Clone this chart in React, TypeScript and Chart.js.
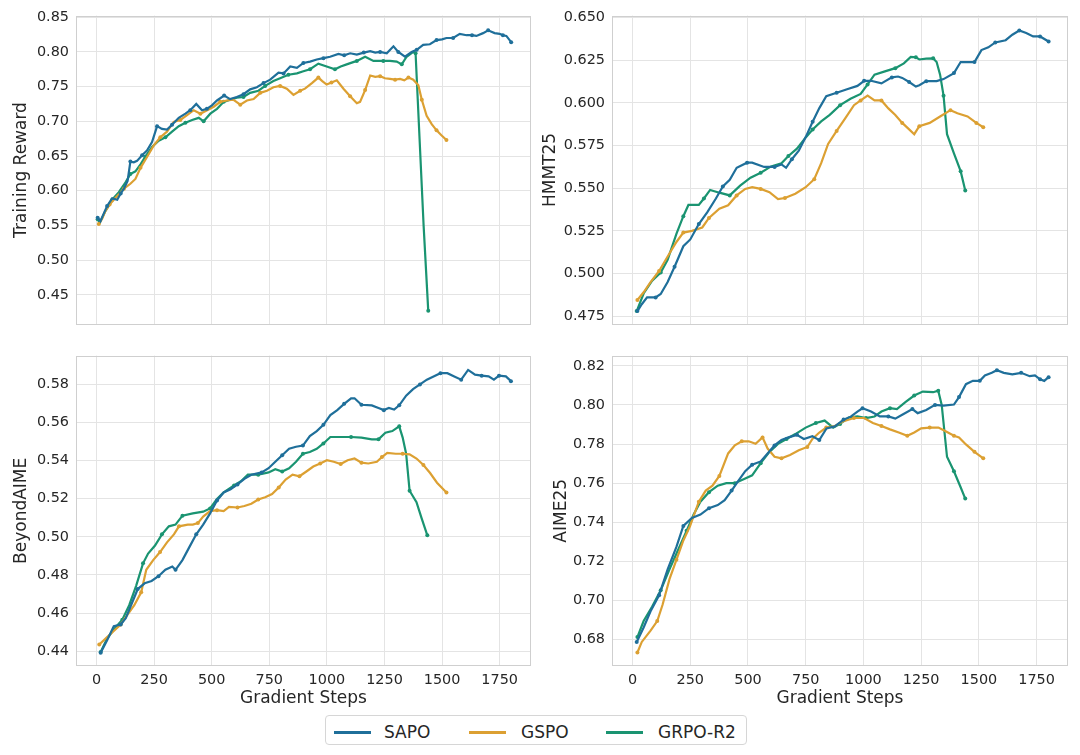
import React, { useEffect, useRef } from "react";
import { Chart, registerables } from "chart.js";

Chart.register(...registerables);

type Pt = [number, number];

const SERIES_NAMES = ["SAPO", "GSPO", "GRPO-R2"];
const X_TICKS = [0, 250, 500, 750, 1000, 1250, 1500, 1750];
const X_TITLE = "Gradient Steps";

const TRAIN_TICKS = [0.45, 0.5, 0.55, 0.6, 0.65, 0.7, 0.75, 0.8, 0.85];
const HMMT_TICKS = [0.475, 0.5, 0.525, 0.55, 0.575, 0.6, 0.625, 0.65];
const BEYOND_TICKS = [0.44, 0.46, 0.48, 0.5, 0.52, 0.54, 0.56, 0.58];
const AIME_TICKS = [0.68, 0.7, 0.72, 0.74, 0.76, 0.78, 0.8, 0.82];

// ---- Training Reward ----
const TRAIN_SAPO: Pt[] = [
  [5, 0.561], [17, 0.556], [30, 0.566], [46, 0.578], [68, 0.589], [90, 0.587], [105, 0.596], [119, 0.603],
  [135, 0.614], [147, 0.642], [162, 0.641], [176, 0.643], [198, 0.651], [219, 0.658], [241, 0.67], [263, 0.693],
  [284, 0.689], [306, 0.688], [328, 0.695], [357, 0.705], [386, 0.711], [407, 0.716], [433, 0.725], [458, 0.716],
  [479, 0.718], [501, 0.723], [523, 0.73], [554, 0.737], [580, 0.732], [609, 0.735], [638, 0.739], [667, 0.746],
  [696, 0.749], [725, 0.755], [754, 0.76], [790, 0.77], [812, 0.769], [841, 0.779], [870, 0.777], [898, 0.784],
  [927, 0.786], [956, 0.789], [985, 0.791], [1014, 0.793], [1050, 0.797], [1075, 0.795], [1101, 0.798], [1130, 0.796],
  [1160, 0.799], [1188, 0.801], [1210, 0.799], [1231, 0.8], [1260, 0.798], [1289, 0.808], [1310, 0.8], [1339, 0.793],
  [1368, 0.8], [1390, 0.803], [1418, 0.81], [1447, 0.811], [1476, 0.817], [1500, 0.818], [1519, 0.82], [1548, 0.82],
  [1577, 0.826], [1606, 0.824], [1630, 0.824], [1649, 0.823], [1678, 0.827], [1700, 0.831], [1728, 0.827], [1750, 0.826],
  [1764, 0.824], [1779, 0.823], [1800, 0.814],
];
const TRAIN_GSPO: Pt[] = [
  [10, 0.552], [25, 0.56], [39, 0.571], [57, 0.58], [75, 0.587], [97, 0.595], [119, 0.603], [147, 0.61],
  [169, 0.617], [191, 0.633], [220, 0.649], [248, 0.665], [277, 0.677], [306, 0.685], [335, 0.699], [364, 0.702],
  [393, 0.709], [422, 0.716], [451, 0.711], [480, 0.716], [509, 0.721], [537, 0.728], [566, 0.73], [595, 0.731],
  [624, 0.724], [653, 0.73], [682, 0.732], [711, 0.741], [740, 0.744], [768, 0.749], [797, 0.751], [826, 0.747],
  [855, 0.738], [884, 0.744], [905, 0.747], [935, 0.755], [963, 0.763], [980, 0.758], [999, 0.753], [1020, 0.756],
  [1043, 0.759], [1072, 0.747], [1101, 0.736], [1130, 0.726], [1144, 0.728], [1166, 0.745], [1188, 0.766], [1210, 0.764],
  [1231, 0.765], [1252, 0.762], [1274, 0.761], [1296, 0.76], [1318, 0.761], [1336, 0.759], [1354, 0.763], [1375, 0.76],
  [1397, 0.752], [1412, 0.731], [1433, 0.708], [1455, 0.696], [1476, 0.687], [1497, 0.68], [1519, 0.673],
];
const TRAIN_GRPO: Pt[] = [
  [5, 0.559], [14, 0.554], [39, 0.571], [68, 0.587], [97, 0.598], [126, 0.612], [147, 0.624], [169, 0.628],
  [191, 0.638], [212, 0.649], [241, 0.663], [270, 0.672], [299, 0.677], [328, 0.685], [357, 0.693], [386, 0.698],
  [415, 0.702], [444, 0.705], [465, 0.7], [494, 0.711], [523, 0.718], [552, 0.728], [580, 0.731], [609, 0.734],
  [638, 0.735], [667, 0.741], [703, 0.744], [732, 0.751], [768, 0.758], [797, 0.762], [833, 0.767], [870, 0.769],
  [898, 0.772], [927, 0.775], [963, 0.783], [999, 0.779], [1035, 0.775], [1060, 0.779], [1086, 0.782], [1130, 0.787],
  [1166, 0.793], [1202, 0.787], [1245, 0.787], [1274, 0.787], [1303, 0.786], [1325, 0.782], [1346, 0.793], [1375, 0.8],
  [1385, 0.798], [1420, 0.549], [1440, 0.427],
];

// ---- HMMT25 ----
const HMMT_SAPO: Pt[] = [
  [21, 0.478], [40, 0.482], [63, 0.486], [100, 0.486], [122, 0.488], [152, 0.495], [182, 0.504], [220, 0.516],
  [250, 0.52], [287, 0.529], [324, 0.536], [361, 0.544], [391, 0.551], [421, 0.555], [451, 0.562], [496, 0.565],
  [518, 0.565], [570, 0.5625], [615, 0.5625], [645, 0.564], [665, 0.562], [690, 0.567], [720, 0.572], [750, 0.58],
  [780, 0.589], [809, 0.597], [839, 0.604], [884, 0.606], [929, 0.608], [974, 0.61], [1003, 0.613], [1033, 0.613],
  [1078, 0.6115], [1123, 0.615], [1150, 0.6155], [1168, 0.6147], [1198, 0.6123], [1227, 0.6096], [1242, 0.6104], [1272, 0.6128],
  [1317, 0.6128], [1347, 0.614], [1392, 0.6175], [1421, 0.624], [1451, 0.624], [1481, 0.624], [1511, 0.631], [1541, 0.6326],
  [1571, 0.6355], [1616, 0.6368], [1645, 0.64], [1675, 0.6425], [1705, 0.641], [1735, 0.639], [1765, 0.639], [1802, 0.636],
];
const HMMT_GSPO: Pt[] = [
  [21, 0.4845], [48, 0.489], [78, 0.495], [115, 0.5015], [152, 0.51], [190, 0.5185], [220, 0.524], [257, 0.525],
  [302, 0.527], [331, 0.5326], [376, 0.538], [414, 0.54], [451, 0.5458], [488, 0.5496], [518, 0.5506], [555, 0.5496],
  [593, 0.5477], [630, 0.5436], [660, 0.5443], [705, 0.5468], [750, 0.5506], [787, 0.5553], [817, 0.5647], [847, 0.576],
  [884, 0.5836], [921, 0.591], [959, 0.5987], [988, 0.6015], [1018, 0.6043], [1048, 0.6015], [1078, 0.6015], [1108, 0.5968],
  [1138, 0.593], [1168, 0.5883], [1198, 0.5845], [1220, 0.5817], [1242, 0.5864], [1287, 0.5883], [1332, 0.5921], [1377, 0.5958],
  [1407, 0.594], [1451, 0.5921], [1489, 0.5883], [1519, 0.5858],
];
const HMMT_GRPO: Pt[] = [
  [18, 0.478], [48, 0.4883], [85, 0.4958], [122, 0.5006], [152, 0.5081], [190, 0.5232], [220, 0.5336], [242, 0.5402],
  [287, 0.5402], [309, 0.544], [336, 0.549], [376, 0.5474], [421, 0.5458], [466, 0.5515], [511, 0.5562], [555, 0.5591],
  [600, 0.5628], [645, 0.5647], [675, 0.5689], [712, 0.5732], [750, 0.5798], [780, 0.5845], [817, 0.5892], [854, 0.593],
  [899, 0.5987], [944, 0.6025], [988, 0.6053], [1018, 0.6109], [1048, 0.6166], [1093, 0.6185], [1138, 0.6204], [1175, 0.6232],
  [1205, 0.627], [1227, 0.6268], [1242, 0.6255], [1272, 0.626], [1302, 0.6262], [1317, 0.624], [1332, 0.6166], [1347, 0.6043],
  [1362, 0.5817], [1392, 0.5704], [1421, 0.56], [1441, 0.5487],
];

// ---- BeyondAIME ----
const BEYOND_SAPO: Pt[] = [
  [18, 0.4392], [45, 0.4455], [75, 0.4531], [105, 0.454], [127, 0.4573], [150, 0.4641], [179, 0.4726], [209, 0.4756],
  [239, 0.4768], [269, 0.4793], [299, 0.4827], [329, 0.4844], [343, 0.4827], [373, 0.4878], [403, 0.4946], [433, 0.5013],
  [463, 0.5064], [493, 0.5123], [523, 0.5191], [552, 0.5233], [582, 0.525], [612, 0.5275], [642, 0.5304], [672, 0.5326],
  [717, 0.5338], [747, 0.536], [776, 0.5394], [806, 0.5428], [836, 0.5462], [866, 0.5473], [896, 0.5479], [926, 0.5529],
  [956, 0.5555], [985, 0.5588], [1015, 0.5639], [1045, 0.5665], [1075, 0.5698], [1105, 0.5727], [1120, 0.5727], [1150, 0.5693],
  [1195, 0.569], [1224, 0.5676], [1247, 0.5665], [1269, 0.5676], [1292, 0.5668], [1314, 0.569], [1344, 0.5741], [1374, 0.5775],
  [1404, 0.58], [1434, 0.5825], [1463, 0.5842], [1493, 0.5859], [1523, 0.5859], [1553, 0.5842], [1583, 0.5825], [1613, 0.5876],
  [1643, 0.5851], [1672, 0.5846], [1702, 0.5842], [1725, 0.5825], [1747, 0.5846], [1777, 0.5842], [1799, 0.5817],
];
const BEYOND_GSPO: Pt[] = [
  [12, 0.4435], [45, 0.4472], [75, 0.4506], [105, 0.454], [134, 0.459], [164, 0.4641], [194, 0.4709], [216, 0.4827],
  [246, 0.4878], [276, 0.492], [306, 0.4971], [336, 0.5013], [358, 0.5055], [396, 0.5064], [418, 0.5064], [440, 0.5072],
  [463, 0.5106], [493, 0.5135], [523, 0.514], [552, 0.5135], [575, 0.5157], [612, 0.5154], [642, 0.5162], [672, 0.5174],
  [702, 0.5196], [732, 0.5208], [762, 0.5225], [791, 0.5259], [821, 0.5301], [851, 0.5326], [881, 0.5318], [911, 0.5343],
  [941, 0.5369], [971, 0.5385], [1000, 0.5402], [1030, 0.5394], [1060, 0.5382], [1090, 0.5402], [1120, 0.5411], [1150, 0.5389],
  [1180, 0.5385], [1217, 0.5394], [1239, 0.5419], [1262, 0.544], [1299, 0.5436], [1329, 0.5436], [1359, 0.5433], [1389, 0.5411],
  [1419, 0.5377], [1448, 0.5335], [1478, 0.5284], [1519, 0.5233],
];
const BEYOND_GRPO: Pt[] = [
  [18, 0.4396], [45, 0.4463], [75, 0.4514], [112, 0.4565], [142, 0.4641], [172, 0.4743], [202, 0.4861], [224, 0.4912],
  [254, 0.4954], [284, 0.5013], [314, 0.5055], [343, 0.5064], [373, 0.5111], [418, 0.5123], [463, 0.5132], [493, 0.5149],
  [523, 0.5199], [552, 0.5233], [597, 0.527], [627, 0.5292], [657, 0.5326], [702, 0.5326], [747, 0.5338], [776, 0.5355],
  [806, 0.5343], [836, 0.536], [866, 0.5394], [896, 0.5436], [926, 0.5445], [956, 0.5462], [985, 0.549], [1015, 0.5524],
  [1060, 0.5524], [1105, 0.5524], [1150, 0.5521], [1195, 0.5512], [1224, 0.5512], [1254, 0.5546], [1284, 0.5555], [1314, 0.558],
  [1329, 0.5521], [1344, 0.5436], [1359, 0.5242], [1389, 0.5182], [1411, 0.5098], [1436, 0.5008],
];

// ---- AIME25 ----
const AIME_SAPO: Pt[] = [
  [18, 0.6788], [48, 0.6862], [78, 0.6945], [115, 0.7027], [152, 0.7159], [190, 0.7274], [220, 0.7381], [257, 0.7422],
  [294, 0.7439], [331, 0.7472], [369, 0.7488], [399, 0.7513], [429, 0.7562], [458, 0.7612], [488, 0.7661], [518, 0.7694],
  [555, 0.7711], [585, 0.7752], [615, 0.7793], [645, 0.7821], [675, 0.7834], [712, 0.7847], [742, 0.7826], [779, 0.784],
  [809, 0.782], [840, 0.788], [876, 0.789], [914, 0.7925], [945, 0.794], [974, 0.7966], [996, 0.7983], [1033, 0.7966],
  [1071, 0.7941], [1108, 0.7941], [1138, 0.793], [1168, 0.795], [1212, 0.7979], [1235, 0.7958], [1272, 0.7974], [1310, 0.8],
  [1347, 0.7996], [1392, 0.8002], [1414, 0.804], [1444, 0.8106], [1474, 0.8123], [1504, 0.8123], [1526, 0.8151], [1556, 0.8164],
  [1578, 0.8177], [1608, 0.8164], [1645, 0.8156], [1683, 0.8164], [1720, 0.8147], [1743, 0.8151], [1765, 0.8131], [1783, 0.8123],
  [1802, 0.8142],
];
const AIME_GSPO: Pt[] = [
  [21, 0.6734], [40, 0.6788], [78, 0.6846], [107, 0.6895], [130, 0.6978], [160, 0.7109], [190, 0.7208], [220, 0.7307],
  [249, 0.7381], [287, 0.7505], [317, 0.7562], [346, 0.7587], [376, 0.7637], [414, 0.7752], [443, 0.7793], [473, 0.7814],
  [503, 0.7814], [533, 0.7801], [563, 0.7834], [585, 0.7777], [615, 0.7735], [645, 0.7727], [682, 0.7744], [720, 0.7768],
  [757, 0.7785], [779, 0.7826], [809, 0.7859], [839, 0.7884], [876, 0.7892], [914, 0.7917], [959, 0.7933], [1003, 0.7933],
  [1041, 0.7908], [1078, 0.7892], [1115, 0.7875], [1153, 0.7859], [1190, 0.7842], [1220, 0.7859], [1250, 0.788], [1287, 0.7884],
  [1325, 0.7884], [1354, 0.7867], [1392, 0.7842], [1414, 0.7834], [1444, 0.7798], [1481, 0.776], [1519, 0.7727],
];
const AIME_GRPO: Pt[] = [
  [21, 0.6813], [48, 0.6895], [85, 0.6969], [122, 0.7052], [160, 0.7159], [197, 0.7258], [234, 0.7356], [264, 0.7439],
  [294, 0.7505], [331, 0.7554], [369, 0.7587], [406, 0.76], [443, 0.76], [481, 0.762], [518, 0.764], [555, 0.7702],
  [593, 0.776], [630, 0.7801], [667, 0.7826], [705, 0.7851], [750, 0.7884], [794, 0.7908], [832, 0.792], [869, 0.7884],
  [899, 0.7903], [936, 0.7936], [974, 0.7941], [1011, 0.7933], [1048, 0.7941], [1078, 0.7966], [1115, 0.7983], [1145, 0.7979],
  [1183, 0.8015], [1220, 0.8048], [1257, 0.8068], [1302, 0.8065], [1324, 0.8073], [1339, 0.8], [1362, 0.7735], [1392, 0.7661],
  [1421, 0.7579], [1441, 0.7521],
];

// ---- styles / layout ----
const COLORS = ["#1f6f9a", "#dca032", "#1a9471"];
const FONT = "'DejaVu Sans', sans-serif";
const TEXT = "#262626";
const GRID = "#e4e4e4";
const SPINE = "#cfcfcf";
const X_MIN = -89;
const X_MAX = 1886;

type PanelCfg = {
  title: string;
  series: Pt[][];
  ticks: number[];
  decimals: number;
  yMin: number;
  yMax: number;
  box: { left: number; top: number; width: number; height: number };
  pad: { left: number; top: number; right: number; bottom: number };
  yAxisW: number;
  xAxisH: number;
  titlePad: number;
  showX: boolean;
};

const PANELS: PanelCfg[] = [
  {
    title: "Training Reward", series: [TRAIN_SAPO, TRAIN_GSPO, TRAIN_GRPO], ticks: TRAIN_TICKS, decimals: 2,
    yMin: 0.4075, yMax: 0.8522,
    box: { left: 0, top: 0, width: 540, height: 340 }, pad: { left: 0, top: 14, right: 9, bottom: 6 },
    yAxisW: 76, xAxisH: 0, titlePad: 11.3, showX: false,
  },
  {
    title: "HMMT25", series: [HMMT_SAPO, HMMT_GSPO, HMMT_GRPO], ticks: HMMT_TICKS, decimals: 3,
    yMin: 0.4702, yMax: 0.6512,
    box: { left: 540, top: 0, width: 540, height: 340 }, pad: { left: 0, top: 14, right: 12, bottom: 6 },
    yAxisW: 72, xAxisH: 0, titlePad: 0.5, showX: false,
  },
  {
    title: "BeyondAIME", series: [BEYOND_SAPO, BEYOND_GSPO, BEYOND_GRPO], ticks: BEYOND_TICKS, decimals: 2,
    yMin: 0.4322, yMax: 0.5951,
    box: { left: 0, top: 340, width: 540, height: 375 }, pad: { left: 0, top: 6, right: 9, bottom: 5.8 },
    yAxisW: 76, xAxisH: 43.2, titlePad: 11.3, showX: true,
  },
  {
    title: "AIME25", series: [AIME_SAPO, AIME_GSPO, AIME_GRPO], ticks: AIME_TICKS, decimals: 2,
    yMin: 0.6665, yMax: 0.8252,
    box: { left: 540, top: 340, width: 540, height: 375 }, pad: { left: 0, top: 6, right: 12, bottom: 5.8 },
    yAxisW: 72, xAxisH: 43.2, titlePad: 10.9, showX: true,
  },
];

const framePlugin = {
  id: "frame",
  beforeDatasetsDraw(chart: any) {
    const { ctx, chartArea: a } = chart;
    ctx.save();
    ctx.strokeStyle = SPINE;
    ctx.lineWidth = 1;
    ctx.strokeRect(Math.round(a.left) + 0.5, Math.round(a.top) + 0.5, Math.round(a.right - a.left) - 1, Math.round(a.bottom - a.top) - 1);
    ctx.restore();
  },
};

function Panel({ p }: { p: PanelCfg }) {
  const ref = useRef<HTMLCanvasElement>(null);
  useEffect(() => {
    const canvas = ref.current;
    if (!canvas) return;
    const chart = new Chart(canvas, {
      type: "line",
      data: {
        datasets: p.series.map((s, i) => ({
          label: SERIES_NAMES[i],
          data: s.map(([x, y]) => ({ x, y })),
          borderColor: COLORS[i],
          backgroundColor: COLORS[i],
          borderWidth: 2.2,
          pointRadius: (c: any) => (c.dataIndex % 3 === 0 || c.dataIndex === s.length - 1 ? 2 : 0),
          pointBorderWidth: 0,
          pointHoverRadius: 0,
          tension: 0,
          fill: false,
        })),
      },
      options: {
        animation: false,
        responsive: false,
        maintainAspectRatio: false,
        events: [],
        layout: { padding: p.pad },
        plugins: { legend: { display: false }, tooltip: { enabled: false } },
        scales: {
          x: {
            type: "linear",
            min: X_MIN,
            max: X_MAX,
            afterBuildTicks: (s: any) => {
              s.ticks = X_TICKS.map((v) => ({ value: v }));
            },
            afterFit: (s: any) => {
              s.height = p.xAxisH;
            },
            grid: { color: GRID, lineWidth: 1, drawTicks: false },
            border: { display: false },
            ticks: {
              display: p.showX,
              autoSkip: false,
              maxRotation: 0,
              padding: 5.4,
              color: TEXT,
              font: { family: FONT, size: 14.4, lineHeight: 1.2 },
              callback: (v: any) => String(v),
            },
            title: {
              display: p.showX,
              text: X_TITLE,
              color: TEXT,
              font: { family: FONT, size: 17, lineHeight: 1.2 },
              padding: { top: 0, bottom: 0 },
            },
          },
          y: {
            type: "linear",
            min: p.yMin,
            max: p.yMax,
            afterBuildTicks: (s: any) => {
              s.ticks = p.ticks.map((v) => ({ value: v }));
            },
            afterFit: (s: any) => {
              s.width = p.yAxisW;
            },
            grid: { color: GRID, lineWidth: 1, drawTicks: false },
            border: { display: false },
            ticks: {
              autoSkip: false,
              padding: 7,
              color: TEXT,
              font: { family: FONT, size: 14.4, lineHeight: 1.2 },
              callback: (v: any) => Number(v).toFixed(p.decimals),
            },
            title: {
              display: true,
              text: p.title,
              color: TEXT,
              font: { family: FONT, size: 17, lineHeight: 1.2 },
              padding: { top: p.titlePad, bottom: 0 },
            },
          },
        },
      } as any,
      plugins: [framePlugin],
    });
    return () => chart.destroy();
  }, [p]);
  return (
    <div style={{ position: "absolute", left: p.box.left, top: p.box.top, width: p.box.width, height: p.box.height }}>
      <canvas ref={ref} width={p.box.width} height={p.box.height} style={{ width: p.box.width, height: p.box.height, display: "block" }} />
    </div>
  );
}

const LEGEND_LINE_X = [8, 143, 280];
const LEGEND_TEXT_X = [58, 195, 332];

function Legend() {
  return (
    <div
      style={{
        position: "absolute",
        left: 325,
        top: 715,
        width: 422,
        height: 30,
        boxSizing: "border-box",
        border: "1px solid #d6d6d6",
        borderRadius: 4,
        background: "#fff",
        fontFamily: FONT,
        fontSize: 17,
        color: TEXT,
      }}
    >
      {SERIES_NAMES.map((n, i) => (
        <React.Fragment key={n}>
          <div style={{ position: "absolute", left: LEGEND_LINE_X[i], top: 15, width: 37, height: 2.6, background: COLORS[i] }} />
          <div style={{ position: "absolute", left: LEGEND_TEXT_X[i], top: 0, height: 30, lineHeight: "32px", whiteSpace: "nowrap" }}>{n}</div>
        </React.Fragment>
      ))}
    </div>
  );
}

export default function App() {
  return (
    <div style={{ position: "absolute", left: 0, top: 0, width: 1080, height: 755, background: "#fff", overflow: "hidden" }}>
      {PANELS.map((p) => (
        <Panel key={p.title} p={p} />
      ))}
      <Legend />
    </div>
  );
}
